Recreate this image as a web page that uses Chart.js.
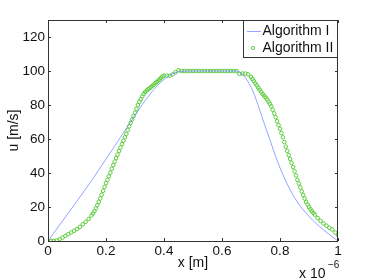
<!DOCTYPE html>
<html>
<head>
<meta charset="utf-8">
<script src="https://cdn.jsdelivr.net/npm/chart.js@4"></script>
<style>
  html, body { margin: 0; padding: 0; background: #fff; }
  #wrap { width: 373px; height: 280px; }
</style>
</head>
<body>
<div id="wrap"><canvas id="myChart" width="373" height="280"></canvas></div>
<script>
// x positions are in units of 1e-6 m
const xLine = [0, 0.05, 0.1, 0.15, 0.2, 0.25, 0.3, 0.35, 0.4, 0.45, 0.5,
               0.55, 0.6, 0.65, 0.7, 0.75, 0.8, 0.85, 0.9, 0.95, 1];
const uAlgI = [0, 11.8, 23.5, 35.5, 48.2, 61, 74, 86, 95, 99.5, 100,
               100, 100, 100, 90.5, 67, 43, 25.5, 14.5, 6.5, 0];

// Algorithm II points (denser where the profile is steep)
const xPts = [0, 0.01, 0.02, 0.03, 0.04, 0.05, 0.06, 0.07, 0.08, 0.09,
              0.1, 0.11, 0.12, 0.13, 0.14,
              0.15, 0.155, 0.16, 0.165, 0.17, 0.175, 0.18, 0.185, 0.19, 0.195,
              0.2, 0.205, 0.21, 0.215, 0.22, 0.225, 0.23, 0.235, 0.24, 0.245,
              0.25, 0.255, 0.26, 0.265, 0.27, 0.275, 0.28, 0.285, 0.29, 0.295,
              0.3, 0.305, 0.31, 0.315, 0.32, 0.325, 0.33, 0.335, 0.34, 0.345,
              0.35, 0.355, 0.36, 0.365, 0.37, 0.375, 0.38, 0.385, 0.39, 0.395,
              0.4, 0.41, 0.42, 0.43, 0.44, 0.45, 0.46, 0.47, 0.48, 0.49,
              0.5, 0.51, 0.52, 0.53, 0.54, 0.55, 0.56, 0.57, 0.58, 0.59,
              0.6, 0.61, 0.62, 0.63, 0.64, 0.65, 0.66, 0.67, 0.68, 0.69,
              0.7, 0.705, 0.71, 0.715, 0.72, 0.725, 0.73, 0.735, 0.74, 0.745,
              0.75, 0.755, 0.76, 0.765, 0.77, 0.775, 0.78, 0.785, 0.79, 0.795,
              0.8, 0.805, 0.81, 0.815, 0.82, 0.825, 0.83, 0.835, 0.84, 0.845,
              0.85, 0.855, 0.86, 0.865, 0.87, 0.875, 0.88, 0.885, 0.89, 0.895,
              0.9, 0.905, 0.91, 0.915,
              0.92, 0.93, 0.94, 0.95, 0.96, 0.97, 0.98, 0.99, 1];
const uAlgII = [0, 0, 0, 0.3, 1, 2, 3, 4, 5, 6,
                7, 8.3, 9.8, 11.3, 13,
                15, 16.2, 17.5, 19.2, 21, 23, 25, 27.2, 29.5, 31.8,
                34, 36, 38, 40.2, 42.5, 44.6, 46.7, 48.8, 50.8, 52.9,
                55, 57, 59, 61, 63, 65.2, 67.5, 69.5, 71.5, 73.5,
                75.5, 77.8, 80, 81.8, 83.5, 85, 86.5, 87.6, 88.5, 89.2,
                89.8, 90.5, 91.3, 92, 92.8, 93.5, 94.3, 95.1, 96, 96.8,
                97.3, 97.3, 97.2, 98, 99.3, 100.5, 100, 100, 100, 100,
                100, 100, 100, 100, 100, 100, 100, 100, 100, 100,
                100, 100, 100, 100, 100, 100, 98.3, 98.5, 98.5, 98,
                96.5, 95.3, 94, 92.7, 91.5, 90.2, 89, 87.8, 86.5, 85.5,
                84.5, 83.3, 82, 80.7, 79.3, 77.2, 75, 72.8, 70.5, 68.2,
                66, 63.5, 61, 58.2, 55.5, 53, 50.5, 48.2, 46, 43.5,
                41, 38.5, 36, 33.8, 31.5, 29.2, 27, 25, 23, 21.5,
                20, 18.7, 17.5, 16.5,
                15.5, 13.5, 11.8, 10.3, 9, 7.8, 6.8, 5, 3.5];

const xTicks = [0, 0.2, 0.4, 0.6, 0.8, 1];
const yTicks = [0, 20, 40, 60, 80, 100, 120];
const seriesNames = ['Algorithm I', 'Algorithm II'];

const FONT = '"Liberation Sans", Arial, Helvetica, sans-serif';
const blue = '#7b8cff';
const green = '#5ccc3c';

// MATLAB style: box, inward ticks on all four sides, legend, exponent label
const matlabBox = {
  id: 'matlabBox',
  afterDraw(chart) {
    const ctx = chart.ctx;
    const a = chart.chartArea;
    const xs = chart.scales.x, ys = chart.scales.y;
    const t = 3;
    ctx.save();
    ctx.strokeStyle = '#333';
    ctx.lineWidth = 1;
    ctx.strokeRect(a.left + 0.5, a.top + 0.5, a.right - a.left - 1, a.bottom - a.top);
    ctx.beginPath();
    xTicks.forEach(v => {
      const px = Math.round(xs.getPixelForValue(v)) + 0.5;
      ctx.moveTo(px, a.bottom); ctx.lineTo(px, a.bottom - t);
      ctx.moveTo(px, a.top); ctx.lineTo(px, a.top + t);
    });
    yTicks.forEach(v => {
      const py = Math.round(ys.getPixelForValue(v)) + 0.5;
      ctx.moveTo(a.left, py); ctx.lineTo(a.left + t, py);
      ctx.moveTo(a.right, py); ctx.lineTo(a.right - t, py);
    });
    ctx.stroke();

    // legend
    const lx = 243, ly = 20, lw = 94, lh = 37;
    ctx.fillStyle = '#fff';
    ctx.fillRect(lx, ly, lw, lh);
    ctx.strokeStyle = '#333';
    ctx.strokeRect(lx + 0.5, ly + 0.5, lw, lh);
    ctx.strokeStyle = blue;
    ctx.lineWidth = 0.8;
    ctx.beginPath();
    ctx.moveTo(lx + 4, ly + 11.5); ctx.lineTo(lx + 18, ly + 11.5);
    ctx.stroke();
    ctx.strokeStyle = green;
    ctx.lineWidth = 1;
    ctx.beginPath();
    ctx.arc(lx + 10, ly + 28, 1.6, 0, Math.PI * 2);
    ctx.stroke();
    ctx.fillStyle = '#111';
    ctx.font = '14px ' + FONT;
    ctx.textBaseline = 'middle';
    ctx.textAlign = 'left';
    ctx.fillText(seriesNames[0], lx + 19.5, ly + 11.5);
    ctx.fillText(seriesNames[1], lx + 19.5, ly + 28);

    // exponent
    ctx.textBaseline = 'alphabetic';
    ctx.fillText('x 10', 299, 278);
    ctx.font = '10px ' + FONT;
    ctx.fillText('\u22126', 328, 268);
    ctx.restore();
  }
};

const ctx = document.getElementById('myChart').getContext('2d');
const chart = new Chart(ctx, {
  type: 'scatter',
  data: {
    datasets: [{
      label: seriesNames[0],
      type: 'line',
      data: xLine.map((x, i) => ({ x: x, y: uAlgI[i] })),
      borderColor: blue,
      borderWidth: 0.8,
      pointRadius: 0,
      fill: false,
      cubicInterpolationMode: 'monotone'
    }, {
      label: seriesNames[1],
      data: xPts.map((x, i) => ({ x: x, y: uAlgII[i] })),
      borderColor: green,
      backgroundColor: 'rgba(0,0,0,0)',
      borderWidth: 1,
      pointRadius: 1.8,
      showLine: false
    }]
  },
  options: {
    responsive: false,
    animation: false,
    layout: { padding: { top: 20, right: 35, left: 0, bottom: 0 } },
    plugins: {
      legend: { display: false },
      tooltip: { enabled: false }
    },
    scales: {
      x: {
        type: 'linear',
        min: 0,
        max: 1,
        afterBuildTicks: s => { s.ticks = xTicks.map(v => ({ value: v })); },
        afterFit: s => { s.height = 39; },
        grid: { display: false, drawTicks: false },
        border: { display: false },
        ticks: {
          color: '#111',
          padding: 2,
          maxRotation: 0,
          font: { family: FONT, size: 13.5 },
          callback: v => String(v)
        },
        title: {
          display: true,
          text: 'x [m]',
          color: '#111',
          font: { family: FONT, size: 14 },
          padding: { top: 0, bottom: 8 }
        }
      },
      y: {
        type: 'linear',
        min: 0,
        max: 130,
        afterBuildTicks: s => { s.ticks = yTicks.map(v => ({ value: v })); },
        afterFit: s => { s.width = 48; },
        grid: { display: false, drawTicks: false },
        border: { display: false },
        ticks: {
          color: '#111',
          padding: 3,
          font: { family: FONT, size: 13.5 }
        },
        title: {
          display: true,
          text: 'u [m/s]',
          color: '#111',
          font: { family: FONT, size: 14 },
          padding: { top: 6, bottom: 0 }
        }
      }
    }
  },
  plugins: [matlabBox]
});
</script>
</body>
</html>
